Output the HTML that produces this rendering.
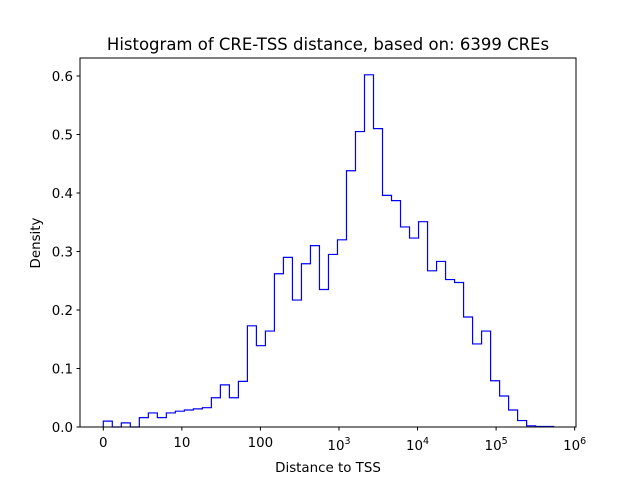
<!DOCTYPE html>
<html><head><meta charset="utf-8"><style>
body{margin:0;background:#fff;}
svg text{font-family:"DejaVu Sans","Liberation Sans",sans-serif;fill:#000;}
</style></head><body>
<svg id="chart" width="640" height="480" viewBox="0 0 640 480" xmlns="http://www.w3.org/2000/svg">
<rect width="640" height="480" fill="#fff"/>
<text x="328" y="50" font-size="16.5" text-anchor="middle">Histogram of CRE-TSS distance, based on: 6399 CREs</text>
<g id="plot"></g>
<rect x="80" y="58" width="496" height="369" fill="none" stroke="#000" stroke-width="1"/>
<text x="328" y="472" font-size="13.4" text-anchor="middle">Distance to TSS</text>
<text x="0" y="0" font-size="13.4" text-anchor="middle" transform="translate(40,243) rotate(-90)">Density</text>
</svg>
<script>
const density = [0.010,0,0.007,0,0.016,0.024,0.016,0.024,0.027,0.029,0.031,0.033,0.050,0.072,0.050,0.078,0.173,0.139,0.164,0.262,0.290,0.217,0.279,0.310,0.235,0.295,0.320,0.438,0.505,0.602,0.510,0.396,0.387,0.342,0.323,0.351,0.267,0.283,0.252,0.247,0.188,0.142,0.164,0.079,0.053,0.029,0.011,0.002,0.001,0.001];
const maxDistance = 540000;
const yTicks = [0,0.1,0.2,0.3,0.4,0.5,0.6];
const xTickValues = [0,10,100,1000,10000,100000,1000000];
const xTickLabels = ["0","10","100","10^3","10^4","10^5","10^6"];

const NS="http://www.w3.org/2000/svg";
const linthresh=10;
function symlog(v){return v<=linthresh? v/linthresh : 1+Math.log10(v/linthresh);}
function invSymlog(u){return u<=1? u*linthresh : linthresh*Math.pow(10,u-1);}
function xScale(v){return 103.3+symlog(v)*78.56;}
function yScale(v){return 427-v*(351/0.6);}
const plot=document.getElementById('plot');
const svg=document.getElementById('chart');
const uMax=symlog(maxDistance);
const edges=[];
for(let i=0;i<=density.length;i++) edges.push(invSymlog(uMax*i/density.length));
let d=`M${xScale(edges[0])},${yScale(0)}`;
density.forEach((v,i)=>{d+=` L${xScale(edges[i])},${yScale(v)} L${xScale(edges[i+1])},${yScale(v)}`;});
d+=` L${xScale(edges[density.length])},${yScale(0)}`;
const p=document.createElementNS(NS,'path');
p.setAttribute('d',d);p.setAttribute('fill','none');p.setAttribute('stroke','#0000ff');p.setAttribute('stroke-width','1.2');


plot.appendChild(p);
yTicks.forEach(t=>{
  const y=yScale(t);
  const l=document.createElementNS(NS,'line');
  l.setAttribute('x1',76.5);l.setAttribute('x2',80);l.setAttribute('y1',y);l.setAttribute('y2',y);l.setAttribute('stroke','#000');
  
  
  svg.appendChild(l);
  const tx=document.createElementNS(NS,'text');
  tx.setAttribute('x',73);tx.setAttribute('y',y+5);tx.setAttribute('font-size','13.4');tx.setAttribute('text-anchor','end');
  tx.textContent=t.toFixed(1);
  
  
  svg.appendChild(tx);
});
xTickValues.forEach((v,i)=>{
  const x=xScale(v);
  const l=document.createElementNS(NS,'line');
  l.setAttribute('x1',x);l.setAttribute('x2',x);l.setAttribute('y1',427);l.setAttribute('y2',430.5);l.setAttribute('stroke','#000');
  
  
  svg.appendChild(l);
  const tx=document.createElementNS(NS,'text');
  tx.setAttribute('x',x);tx.setAttribute('y',447);tx.setAttribute('font-size','13.4');tx.setAttribute('text-anchor','middle');
  const lab=xTickLabels[i];
  if(lab.indexOf('^')>=0){
    const parts=lab.split('^');
    const b=document.createElementNS(NS,'tspan');b.textContent=parts[0];tx.appendChild(b);
    const e=document.createElementNS(NS,'tspan');e.setAttribute('dy','-6');e.setAttribute('font-size','9.5');e.textContent=parts[1];tx.appendChild(e);
    tx.setAttribute('y',450);
  } else tx.textContent=lab;
  
  
  svg.appendChild(tx);
});
</script>
</body></html>
